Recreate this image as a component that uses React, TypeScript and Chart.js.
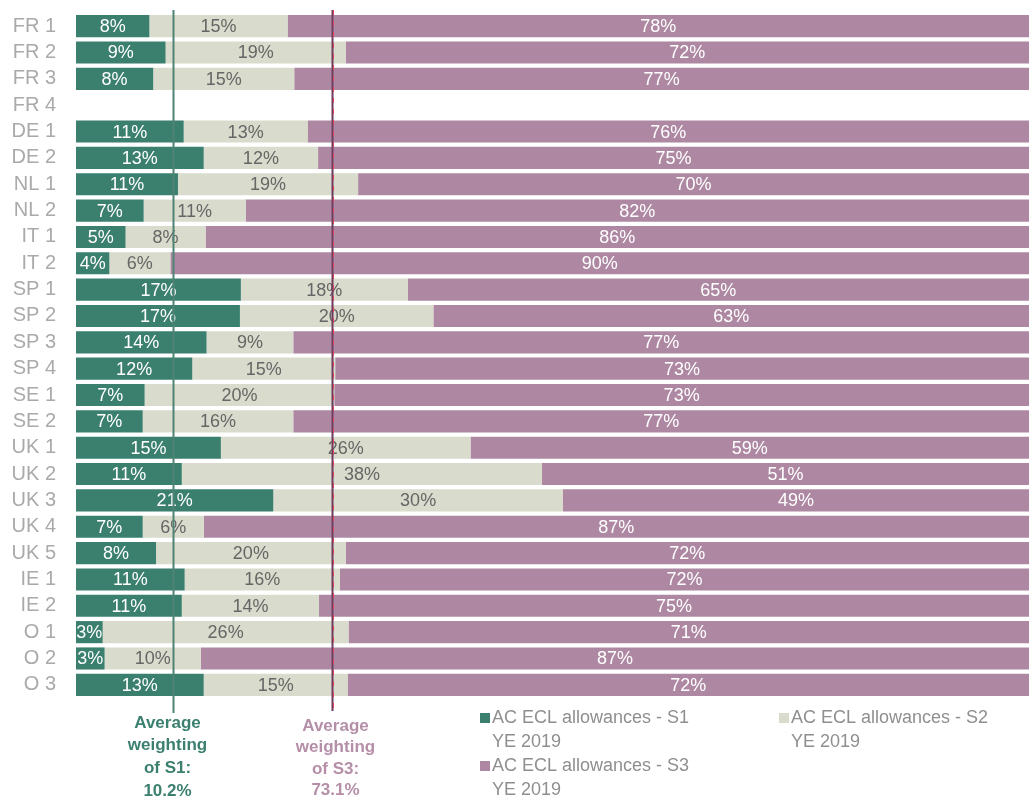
import React, { useEffect, useRef } from "react";
import { Chart, registerables } from "chart.js";

Chart.register(...registerables);

const CATEGORIES = [
  "FR 1", "FR 2", "FR 3", "FR 4", "DE 1", "DE 2", "NL 1", "NL 2", "IT 1", "IT 2",
  "SP 1", "SP 2", "SP 3", "SP 4", "SE 1", "SE 2", "UK 1", "UK 2", "UK 3", "UK 4",
  "UK 5", "IE 1", "IE 2", "O 1", "O 2", "O 3",
];

const S1_VALUES = [
  7.7, 9.4, 8.1, null, 11.3, 13.4, 10.7, 7.1, 5.2, 3.5,
  17.3, 17.2, 13.7, 12.2, 7.2, 7.0, 15.2, 11.1, 20.7, 7.0,
  8.4, 11.4, 11.1, 2.8, 3.0, 13.4,
];
const S2_VALUES = [
  14.5, 18.9, 14.8, null, 13.0, 12.0, 18.9, 10.7, 8.4, 6.4,
  17.5, 20.3, 9.1, 15.0, 19.9, 15.8, 26.2, 37.8, 30.4, 6.4,
  19.9, 16.3, 14.4, 25.8, 10.1, 15.1,
];
const S3_VALUES = [
  77.8, 71.7, 77.1, null, 75.7, 74.6, 70.4, 82.2, 86.4, 90.1,
  65.2, 62.5, 77.2, 72.8, 72.9, 77.2, 58.6, 51.1, 48.9, 86.6,
  71.7, 72.3, 74.5, 71.4, 86.9, 71.5,
];

const SERIES_NAMES = [
  ["AC ECL allowances - S1", "YE 2019"],
  ["AC ECL allowances - S2", "YE 2019"],
  ["AC ECL allowances - S3", "YE 2019"],
];

const AVG_S1 = 10.2;
const AVG_S3 = 73.1;
const AVG_S1_TEXT = ["Average", "weighting", "of S1:", "10.2%"];
const AVG_S3_TEXT = ["Average", "weighting", "of S3:", "73.1%"];

const C_S1 = "#3b7f6f";
const C_S2 = "#d9dbcc";
const C_S3 = "#ae88a2";
const FONT = "'Liberation Sans', Arial, sans-serif";

const overlayPlugin = {
  id: "overlay",
  afterDatasetsDraw(chart: any) {
    const ctx = chart.ctx;
    const labelColors = ["#ffffff", "#666666", "#ffffff"];
    ctx.save();
    ctx.font = `18px ${FONT}`;
    ctx.textAlign = "center";
    ctx.textBaseline = "middle";
    chart.data.datasets.forEach((ds: any, di: number) => {
      const meta = chart.getDatasetMeta(di);
      meta.data.forEach((el: any, i: number) => {
        const v = ds.data[i];
        if (v === null || v === undefined) return;
        const cx = (el.x + el.base) / 2;
        ctx.fillStyle = labelColors[di];
        ctx.fillText(Math.round(v) + "%", cx, el.y + 1);
      });
    });
    ctx.restore();
  },
  afterDraw(chart: any) {
    const ctx = chart.ctx;
    const xs = chart.scales.x;
    const area = chart.chartArea;
    ctx.save();
    // S1 average line
    const x1 = Math.round(xs.getPixelForValue(AVG_S1)) + 0.5;
    ctx.strokeStyle = "#4f8474";
    ctx.lineWidth = 2;
    ctx.beginPath();
    ctx.moveTo(x1, area.top - 3);
    ctx.lineTo(x1, area.bottom + 15);
    ctx.stroke();
    // S3 average line
    const x3 = Math.round(xs.getPixelForValue(100 - AVG_S3)) + 0.5;
    ctx.strokeStyle = "#6f3d5e";
    ctx.lineWidth = 2;
    ctx.beginPath();
    ctx.moveTo(x3, area.top - 3);
    ctx.lineTo(x3, area.bottom + 13);
    ctx.stroke();
    ctx.strokeStyle = "#e0445a";
    ctx.lineWidth = 1;
    ctx.setLineDash([5, 6]);
    ctx.beginPath();
    ctx.moveTo(x3 + 1, area.top - 3);
    ctx.lineTo(x3 + 1, area.bottom + 13);
    ctx.stroke();
    ctx.setLineDash([]);

    // annotation texts
    ctx.font = `bold 17px ${FONT}`;
    ctx.textAlign = "center";
    ctx.textBaseline = "middle";
    ctx.fillStyle = C_S1;
    AVG_S1_TEXT.forEach((t, i) => ctx.fillText(t, x1 - 6, area.bottom + 25 + i * 22.7));
    ctx.fillStyle = "#b58ea8";
    AVG_S3_TEXT.forEach((t, i) => ctx.fillText(t, x3 + 3, area.bottom + 28 + i * 21.5));

    // legend
    const colors = [C_S1, C_S2, C_S3];
    const pos = [
      [480, area.bottom + 20],
      [779, area.bottom + 20],
      [480, area.bottom + 68],
    ];
    ctx.font = `18px ${FONT}`;
    ctx.textAlign = "left";
    SERIES_NAMES.forEach((lines, i) => {
      const [lx, ly] = pos[i];
      ctx.fillStyle = colors[i];
      ctx.fillRect(lx, ly - 5, 10, 10);
      ctx.fillStyle = "#8f8f8f";
      lines.forEach((t, j) => ctx.fillText(t, lx + 12, ly + j * 24));
    });
    ctx.restore();
  },
};

export default function App() {
  const canvasRef = useRef<HTMLCanvasElement>(null);

  useEffect(() => {
    document.body.style.margin = "0";
    const canvas = canvasRef.current;
    if (!canvas) return;
    const chart = new Chart(canvas, {
      type: "bar",
      data: {
        labels: CATEGORIES,
        datasets: [
          { label: SERIES_NAMES[0].join(" "), data: S1_VALUES, backgroundColor: C_S1 },
          { label: SERIES_NAMES[1].join(" "), data: S2_VALUES, backgroundColor: C_S2 },
          { label: SERIES_NAMES[2].join(" "), data: S3_VALUES, backgroundColor: C_S3 },
        ],
      },
      options: {
        indexAxis: "y",
        animation: false,
        responsive: false,
        maintainAspectRatio: false,
        layout: { padding: { top: 13, bottom: 100, left: 0, right: 0 } },
        datasets: { bar: { categoryPercentage: 1, barPercentage: 0.84 } },
        plugins: {
          legend: { display: false },
          tooltip: { enabled: false },
          title: { display: false },
        },
        scales: {
          x: { stacked: true, min: 0, max: 100, display: false },
          y: {
            stacked: true,
            grid: { display: false, drawTicks: false },
            border: { display: false },
            ticks: {
              color: "#aaaaaa",
              font: { family: FONT, size: 20 },
              padding: 20,
              autoSkip: false,
            },
            afterFit: (scale: any) => {
              scale.width = 76;
              scale.paddingTop = 0;
              scale.paddingBottom = 0;
            },
          },
        },
      } as any,
      plugins: [overlayPlugin],
    });
    return () => chart.destroy();
  }, []);

  return (
    <div style={{ width: 1029, height: 798, position: "relative", background: "#ffffff" }}>
      <canvas ref={canvasRef} width={1029} height={798} style={{ display: "block" }} />
    </div>
  );
}
